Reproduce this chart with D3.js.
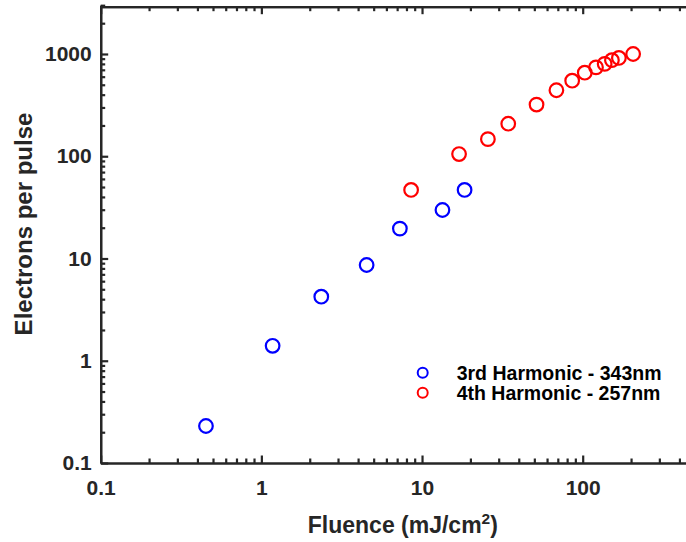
<!DOCTYPE html>
<html>
<head>
<meta charset="utf-8">
<script src="https://cdn.jsdelivr.net/npm/d3@7"></script>
<style>
  html, body { margin: 0; padding: 0; background: #fff; }
  svg { display: block; }
  text { font-family: "Liberation Sans", Arial, Helvetica, sans-serif; font-weight: bold; }
</style>
</head>
<body>
<svg id="chart" width="686" height="542"></svg>
<script>
// ---- Data ----
const thirdFluence = [0.452, 1.175, 2.36, 4.52, 7.28, 13.4, 18.4];
const thirdElectrons = [0.230, 1.40, 4.23, 8.64, 19.6, 29.8, 46.8];
const fourthFluence = [8.55, 17.0, 25.7, 34.4, 51.6, 68.6, 86.0, 103, 121, 137, 152, 168, 206];
const fourthElectrons = [46.8, 105, 147, 208, 320, 442, 548, 656, 740, 800, 870, 915, 1000];
const xTickValues = [0.1, 1, 10, 100];
const xTickLabels = ["0.1", "1", "10", "100"];
const yTickValues = [0.1, 1, 10, 100, 1000];
const yTickLabels = ["0.1", "1", "10", "100", "1000"];
const seriesNames = ["3rd Harmonic - 343nm", "4th Harmonic - 257nm"];
const seriesColors = ["#0000ff", "#ff0000"];
const xLabel = "Fluence (mJ/cm";
const yLabel = "Electrons per pulse";

// ---- Layout ----
const plotLeft = 100.7, plotRight = 695, plotTop = 5.2, plotBottom = 463;
const svg = d3.select("#chart");
const axisColor = "#262626";

const x = d3.scaleLog().domain([0.1, 500]).range([plotLeft, plotRight]);
const y = d3.scaleLog().domain([0.1, 3000]).range([plotBottom, plotTop]);

const xMinor = x.ticks().filter(v => !xTickValues.some(t => Math.abs(t - v) / t < 1e-9));
const yMinor = y.ticks().filter(v => !yTickValues.some(t => Math.abs(t - v) / t < 1e-9));

function styleAxis(g) {
  g.select(".domain").attr("stroke", axisColor).attr("stroke-width", 2.2);
  g.selectAll(".tick line").attr("stroke", axisColor).attr("stroke-width", 2.2);
  g.selectAll(".tick text").attr("fill", axisColor).style("font-size", "21px").style("font-weight", "bold")
    .style("font-family", "'Liberation Sans', Arial, Helvetica, sans-serif");
}

// Bottom axis
const gxMinor = svg.append("g").attr("transform", `translate(0,${plotBottom})`)
  .call(d3.axisBottom(x).tickValues(xMinor).tickSize(-4.5).tickSizeOuter(0).tickFormat(""));
styleAxis(gxMinor);
const gx = svg.append("g").attr("transform", `translate(0,${plotBottom})`)
  .call(d3.axisBottom(x).tickValues(xTickValues).tickSize(-7.5).tickSizeOuter(0).tickPadding(17)
    .tickFormat((d, i) => xTickLabels[i]));
styleAxis(gx);

// Top axis
const gtMinor = svg.append("g").attr("transform", `translate(0,${plotTop + 1.5})`)
  .call(d3.axisTop(x).tickValues(xMinor).tickSize(-4.5).tickSizeOuter(0).tickFormat(""));
styleAxis(gtMinor);
const gt = svg.append("g").attr("transform", `translate(0,${plotTop + 1.5})`)
  .call(d3.axisTop(x).tickValues(xTickValues).tickSize(-7.5).tickSizeOuter(0).tickFormat(""));
styleAxis(gt);

// Left axis
const gyMinor = svg.append("g").attr("transform", `translate(${plotLeft},0)`)
  .call(d3.axisLeft(y).tickValues(yMinor).tickSize(-4.5).tickSizeOuter(0).tickFormat(""));
styleAxis(gyMinor);
const gy = svg.append("g").attr("transform", `translate(${plotLeft},0)`)
  .call(d3.axisLeft(y).tickValues(yTickValues).tickSize(-7.5).tickSizeOuter(0).tickPadding(9)
    .tickFormat((d, i) => yTickLabels[i]));
styleAxis(gy);

// Right axis (mostly outside the visible area)
const gr = svg.append("g").attr("transform", `translate(${plotRight},0)`)
  .call(d3.axisRight(y).tickValues(yTickValues).tickSize(-7.5).tickSizeOuter(0).tickFormat(""));
styleAxis(gr);

// Axis labels
const xl = svg.append("text")
  .attr("x", (plotLeft + plotRight) / 2 + 5)
  .attr("y", 533)
  .attr("text-anchor", "middle")
  .attr("fill", axisColor)
  .style("font-size", "23px");
xl.append("tspan").text(xLabel);
xl.append("tspan").attr("dy", -9).style("font-size", "15.5px").text("2");
xl.append("tspan").attr("dy", 9).text(")");

svg.append("text")
  .attr("transform", `translate(31.5,224) rotate(-90)`)
  .attr("text-anchor", "middle")
  .attr("fill", axisColor)
  .style("font-size", "24px")
  .text(yLabel);

// Data
const series = [
  { xs: thirdFluence, ys: thirdElectrons },
  { xs: fourthFluence, ys: fourthElectrons }
];
series.forEach((s, k) => {
  svg.append("g").selectAll("circle")
    .data(s.xs.map((v, i) => [v, s.ys[i]]))
    .join("circle")
    .attr("cx", d => x(d[0]))
    .attr("cy", d => y(d[1]))
    .attr("r", 6.8)
    .attr("fill", "none")
    .attr("stroke", seriesColors[k])
    .attr("stroke-width", 2.2);
});

// Legend
const legend = svg.append("g");
seriesNames.forEach((name, k) => {
  const ly = 372.7 + k * 20;
  legend.append("circle")
    .attr("cx", 422.7).attr("cy", ly).attr("r", 5)
    .attr("fill", "none").attr("stroke", seriesColors[k]).attr("stroke-width", 2);
  legend.append("text")
    .attr("x", 456.7).attr("y", ly + 6.8)
    .attr("fill", "#000")
    .style("font-size", "19.5px")
    .text(name);
});
</script>
</body>
</html>
